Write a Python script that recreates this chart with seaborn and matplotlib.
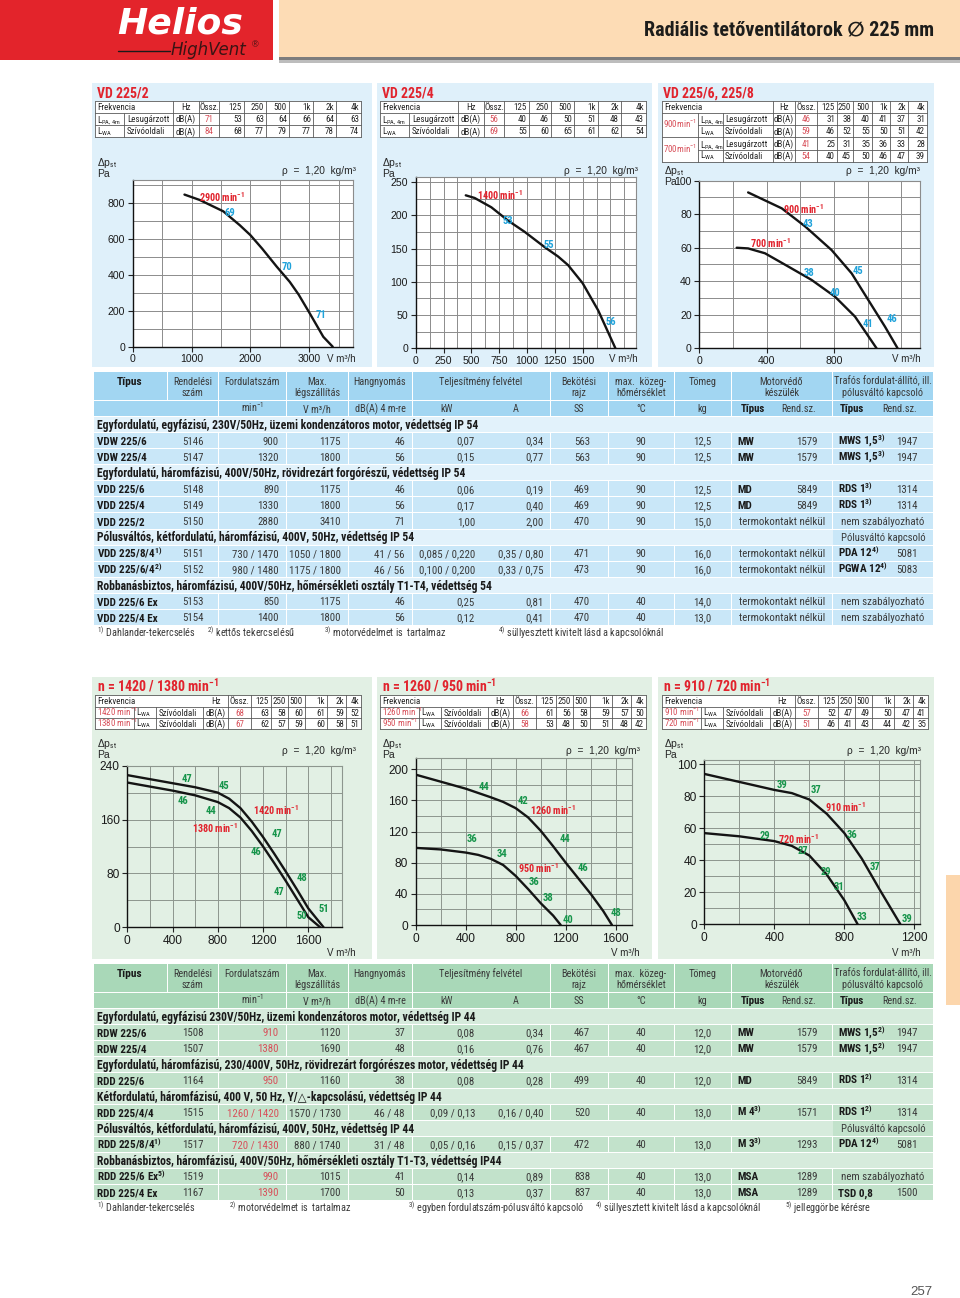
import matplotlib
matplotlib.use("Agg")
import matplotlib.pyplot as plt
import seaborn as sns
import numpy as np
import pandas as pd
from matplotlib import font_manager
from matplotlib.patches import Rectangle
from matplotlib.lines import Line2D

# ------------------------------------------------------------------ data
PAGE_TITLE = "Radiális tetőventilátorok ∅ 225 mm"
PAGE_NO = "257"
FREQS = ["125", "250", "500", "1k", "2k", "4k"]

# VD 225/2
VD2_TITLE = "VD 225/2"
VD2_TOTALS = ["71", "84"]
VD2_LPA = ["53", "63", "64", "66", "64", "63"]
VD2_LWA = ["68", "77", "79", "77", "78", "74"]
VD2_V = [880, 1140, 1540, 1820, 2000, 2200, 2450, 2670, 2820, 3010, 3240, 3400]
VD2_P = [845, 815, 752, 675, 620, 545, 444, 360, 290, 185, 55, 0]
VD2_LABELS = [("2900 min$^{\\mathbf{-1}}$", 1130, 832, "rpm"), ("69", 1652, 741, "db"),
              ("70", 2615, 444, "db"), ("71", 3209, 176, "db")]

# VD 225/4
VD4_TITLE = "VD 225/4"
VD4_TOTALS = ["56", "69"]
VD4_LPA = ["40", "46", "50", "51", "48", "43"]
VD4_LWA = ["55", "60", "65", "61", "62", "54"]
VD4_V = [450, 530, 680, 830, 980, 1160, 1280, 1370, 1500, 1640, 1795]
VD4_P = [230, 226, 212, 192, 175, 152, 138, 125, 98, 57, 0]
VD4_LABELS = [("1400 min$^{\\mathbf{-1}}$", 548, 231, "rpm"), ("53", 832, 192, "db"),
              ("55", 1198, 156, "db"), ("56", 1754, 40, "db")]

# VD 225/6, 225/8
VD68_TITLE = "VD 225/6, 225/8"
VD68_RPM = ["900min$^{-1}$", "700min$^{-1}$"]
VD68_TOTALS = ["46", "59", "41", "54"]
VD68_ROWS = [["31", "38", "40", "41", "37", "31"], ["46", "52", "55", "50", "51", "42"],
             ["25", "31", "35", "36", "33", "28"], ["40", "45", "50", "46", "47", "39"]]
VD6_V = [290, 490, 630, 786, 905, 1004, 1103, 1178]
VD6_P = [93, 83.5, 72.6, 58.6, 44.7, 28.8, 12.9, 0]
VD8_V = [222, 290, 390, 530, 667, 806, 925, 1053]
VD8_P = [60, 59.6, 56.7, 48.7, 40.8, 30.8, 18.9, 0]
VD68_LABELS = [("900 min$^{\\mathbf{-1}}$", 499, 83, "rpm"), ("43", 643, 74, "db"),
               ("700 min$^{\\mathbf{-1}}$", 301, 63, "rpm"), ("38", 651, 45, "db"),
               ("45", 944, 46, "db"), ("40", 806, 33, "db"), ("41", 1004, 14.5, "db"),
               ("46", 1143, 17.5, "db")]

# n = 1420 / 1380
N1_TITLE = "n = 1420 / 1380 min$^{\\mathbf{-1}}$"
N1_RPM = ["1420 min$^{-1}$", "1380 min$^{-1}$"]
N1_TOTALS = ["68", "67"]
N1_ROWS = [["63", "58", "60", "61", "59", "52"], ["62", "57", "59", "60", "58", "51"]]
N1A_V = [0, 200, 400, 600, 800, 900, 1000, 1100, 1200, 1300, 1400, 1500, 1600, 1735]
N1A_P = [226, 220, 214, 208, 200, 191, 177, 157, 134, 109, 83, 56, 28, 0]
N1B_V = [0, 200, 400, 600, 800, 900, 1000, 1100, 1200, 1300, 1400, 1500, 1600, 1705]
N1B_P = [215, 209, 203, 196, 186, 177, 163, 143, 120, 95, 69, 42, 15, 0]
N1_LABELS = [("47", 531, 220, "db"), ("45", 855, 210, "db"), ("46", 490, 187, "db"),
             ("44", 740, 172, "db"), ("1420 min$^{\\mathbf{-1}}$", 1115, 174, "rpm"),
             ("1380 min$^{\\mathbf{-1}}$", 570, 147, "rpm"), ("47", 1320, 139, "db"),
             ("46", 1135, 112, "db"), ("48", 1545, 73, "db"), ("47", 1342, 53, "db"),
             ("51", 1735, 27, "db"), ("50", 1543, 17, "db")]

# n = 1260 / 950
N2_TITLE = "n = 1260 / 950 min$^{\\mathbf{-1}}$"
N2_RPM = ["1260 min$^{-1}$", "950 min$^{-1}$"]
N2_TOTALS = ["66", "58"]
N2_ROWS = [["61", "56", "58", "59", "57", "50"], ["53", "48", "50", "51", "48", "42"]]
N2A_V = [0, 200, 400, 600, 700, 800, 900, 1000, 1100, 1200, 1300, 1400, 1500, 1570]
N2A_P = [193, 184, 175, 164, 158, 150, 138, 121, 101, 80, 60, 40, 18, 0]
N2B_V = [0, 200, 400, 500, 600, 700, 800, 900, 1000, 1100, 1160]
N2B_P = [99, 97, 93, 90, 85, 77, 63, 46, 28, 12, 0]
N2_LABELS = [("44", 547, 177, "db"), ("42", 861, 159, "db"),
             ("1260 min$^{\\mathbf{-1}}$", 915, 147, "rpm"), ("36", 450, 110, "db"),
             ("44", 1195, 110, "db"), ("34", 690, 91, "db"),
             ("950 min$^{\\mathbf{-1}}$", 820, 73, "rpm"), ("46", 1341, 73, "db"),
             ("36", 947, 55, "db"), ("38", 1061, 35, "db"), ("40", 1221, 7, "db"),
             ("48", 1603, 16, "db")]

# n = 910 / 720
N3_TITLE = "n = 910 / 720 min$^{\\mathbf{-1}}$"
N3_RPM = ["910 min$^{-1}$", "720 min$^{-1}$"]
N3_TOTALS = ["57", "51"]
N3_ROWS = [["52", "47", "49", "50", "47", "41"], ["46", "41", "43", "44", "42", "35"]]
N3A_V = [0, 200, 400, 500, 600, 700, 800, 900, 1000, 1120]
N3A_P = [94, 89, 84, 82, 78, 69, 57, 41, 22, 0]
N3B_V = [0, 200, 400, 500, 600, 700, 800, 876]
N3B_P = [57, 55, 52, 49, 43, 31, 15, 0]
N3_LABELS = [("39", 446, 87, "db"), ("37", 636, 84, "db"),
             ("910 min$^{\\mathbf{-1}}$", 690, 73, "rpm"), ("36", 842, 56, "db"),
             ("29", 347, 55, "db"), ("720 min$^{\\mathbf{-1}}$", 423, 53, "rpm"),
             ("27", 566, 46, "db"), ("37", 975, 36, "db"), ("29", 695, 32.5, "db"),
             ("31", 770, 23.5, "db"), ("33", 899, 4.4, "db"), ("39", 1156, 3.3, "db")]

# main tables
HEADERS = [("Típus", ""), ("Rendelési", "szám"), ("Fordulatszám", ""), ("Max.", "légszállítás"),
           ("Hangnyomás", ""), ("Teljesítmény felvétel", ""), ("Bekötési", "rajz"),
           ("max.  közeg-", "hőmérséklet"), ("Tömeg", ""), ("Motorvédő", "készülék"),
           ("Trafós fordulat-állító, ill.", "pólusváltó kapcsoló")]
UNITS = ["min$^{-1}$", "V m³/h", "dB(A) 4 m-re", "kW", "A", "SS", "°C", "kg"]

TOP_ROWS = [
    ["S", "Egyfordulatú, egyfázisú, 230V/50Hz, üzemi kondenzátoros motor, védettség IP 54", ""],
    ["D", "VDW 225/6", "5146", "900", "1175", "46", "0,07", "0,34", "563", "90", "12,5", "MW", "1579", "MWS 1,5$^{3)}$", "1947"],
    ["D", "VDW 225/4", "5147", "1320", "1800", "56", "0,15", "0,77", "563", "90", "12,5", "MW", "1579", "MWS 1,5$^{3)}$", "1947"],
    ["S", "Egyfordulatú, háromfázisú, 400V/50Hz, rövidrezárt forgórészű, védettség IP 54", ""],
    ["D", "VDD 225/6", "5148", "890", "1175", "46", "0,06", "0,19", "469", "90", "12,5", "MD", "5849", "RDS 1$^{3)}$", "1314"],
    ["D", "VDD 225/4", "5149", "1330", "1800", "56", "0,17", "0,40", "469", "90", "12,5", "MD", "5849", "RDS 1$^{3)}$", "1314"],
    ["D", "VDD 225/2", "5150", "2880", "3410", "71", "1,00", "2,00", "470", "90", "15,0", "termokontakt nélkül", "", "nem szabályozható", ""],
    ["S", "Pólusváltós, kétfordulatú, háromfázisú, 400V, 50Hz, védettség IP 54", "Pólusváltó kapcsoló"],
    ["D", "VDD 225/8/4$^{1)}$", "5151", "730 / 1470", "1050 / 1800", "41 / 56", "0,085 / 0,220", "0,35 / 0,80", "471", "90", "16,0", "termokontakt nélkül", "", "PDA 12$^{4)}$", "5081"],
    ["D", "VDD 225/6/4$^{2)}$", "5152", "980 / 1480", "1175 / 1800", "46 / 56", "0,100 / 0,200", "0,33 / 0,75", "473", "90", "16,0", "termokontakt nélkül", "", "PGWA 12$^{4)}$", "5083"],
    ["S", "Robbanásbiztos, háromfázisú, 400V/50Hz, hőmérsékleti osztály T1-T4, védettség 54", ""],
    ["D", "VDD 225/6 Ex", "5153", "850", "1175", "46", "0,25", "0,81", "470", "40", "14,0", "termokontakt nélkül", "", "nem szabályozható", ""],
    ["D", "VDD 225/4 Ex", "5154", "1400", "1800", "56", "0,12", "0,41", "470", "40", "13,0", "termokontakt nélkül", "", "nem szabályozható", ""],
]
TOP_NOTES = [("$^{1)}$ Dahlander-tekercselés", 97), ("$^{2)}$ kettős tekercselésű", 207),
             ("$^{3)}$ motorvédelmet is  tartalmaz", 324), ("$^{4)}$ süllyesztett kivitelt lásd a kapcsolóknál", 498)]

BOT_ROWS = [
    ["S", "Egyfordulatú, egyfázisú 230V/50Hz, üzemi kondenzátoros motor, védettség IP 44", ""],
    ["D", "RDW 225/6", "1508", "910", "1120", "37", "0,08", "0,34", "467", "40", "12,0", "MW", "1579", "MWS 1,5$^{2)}$", "1947"],
    ["D", "RDW 225/4", "1507", "1380", "1690", "48", "0,16", "0,76", "467", "40", "12,0", "MW", "1579", "MWS 1,5$^{2)}$", "1947"],
    ["S", "Egyfordulatú, háromfázisú, 230/400V, 50Hz, rövidrezárt forgórészes motor, védettség IP 44", ""],
    ["D", "RDD 225/6", "1164", "950", "1160", "38", "0,08", "0,28", "499", "40", "12,0", "MD", "5849", "RDS 1$^{2)}$", "1314"],
    ["S", "Kétfordulatú, háromfázisú, 400 V, 50 Hz, Y/△-kapcsolású, védettség IP 44", ""],
    ["D", "RDD 225/4/4", "1515", "1260 / 1420", "1570 / 1730", "46 / 48", "0,09 / 0,13", "0,16 / 0,40", "520", "40", "13,0", "M 4$^{3)}$", "1571", "RDS 1$^{2)}$", "1314"],
    ["S", "Pólusváltós, kétfordulatú, háromfázisú, 400V, 50Hz, védettség IP 44", "Pólusváltó kapcsoló"],
    ["D", "RDD 225/8/4$^{1)}$", "1517", "720 / 1430", "880 / 1740", "31 / 48", "0,05 / 0,16", "0,15 / 0,37", "472", "40", "13,0", "M 3$^{3)}$", "1293", "PDA 12$^{4)}$", "5081"],
    ["S", "Robbanásbiztos, háromfázisú, 400V/50Hz, hőmérsékleti osztály T1-T3, védettség IP44", ""],
    ["D", "RDD 225/6 Ex$^{5)}$", "1519", "990", "1015", "41", "0,14", "0,89", "838", "40", "13,0", "MSA", "1289", "nem szabályozható", ""],
    ["D", "RDD 225/4 Ex", "1167", "1390", "1700", "50", "0,13", "0,37", "837", "40", "13,0", "MSA", "1289", "TSD 0,8", "1500"],
]
BOT_NOTES = [("$^{1)}$ Dahlander-tekercselés", 97), ("$^{2)}$ motorvédelmet is  tartalmaz", 229),
             ("$^{3)}$ egyben fordulatszám-pólusváltó kapcsoló", 408),
             ("$^{4)}$ süllyesztett kivitelt lásd a kapcsolóknál", 595), ("$^{5)}$ jelleggörbe kérésre", 785)]

# ------------------------------------------------------------------ style / fonts
sns.set_theme(style="white")
names = {f.name for f in font_manager.fontManager.ttflist}
NARROW = next((n for n in ["Liberation Sans Narrow", "Roboto Condensed", "Arial Narrow"] if n in names), None)
SANS = "Liberation Sans" if "Liberation Sans" in names else "DejaVu Sans"
NS = 1.0
if NARROW is None:
    NARROW = SANS
    NS = 0.84
plt.rcParams["font.family"] = [NARROW, "DejaVu Sans"]
plt.rcParams["mathtext.fontset"] = "custom"
plt.rcParams["mathtext.rm"] = NARROW
plt.rcParams["mathtext.it"] = NARROW + ":italic"
plt.rcParams["mathtext.bf"] = NARROW + ":bold"
plt.rcParams["mathtext.default"] = "regular"

INK = "#262626"
RED = "#e1232d"
PINK = "#d8505a"
CYAN = "#1fa2da"
GREEN = "#16944a"

W, H = 960, 1298
fig = plt.figure(figsize=(W / 100, H / 100), dpi=100)


def R(x0, y0, x1, y1, fc, z=1):
    fig.add_artist(Rectangle((x0 / W, 1 - y1 / H), (x1 - x0) / W, (y1 - y0) / H,
                             transform=fig.transFigure, facecolor=fc, edgecolor="none",
                             linewidth=0, zorder=z))


def L(x0, y0, x1, y1, c="#5a5a5a", lw=0.6, z=3):
    fig.add_artist(Line2D([x0 / W, x1 / W], [1 - y0 / H, 1 - y1 / H], transform=fig.transFigure,
                          color=c, linewidth=lw, zorder=z))


def TX(x, yc, s, size=7.8, ha="left", color=INK, weight="normal", fam=None, style="normal", z=4):
    fam = fam or NARROW
    sz = size * (NS if fam == NARROW else 1.0)
    fig.text(x / W, 1 - (yc + 0.5 * sz) / H, s, fontsize=sz, ha=ha, va="baseline", color=color,
             fontweight=weight, family=[fam, "DejaVu Sans"], fontstyle=style, zorder=z)


# ------------------------------------------------------------------ page header
R(0, 0, 273, 60, "#e3242b")
R(279, 0, 960, 57, "#fddcb5")
R(279, 57, 960, 60, "#7d7d7d")
R(279, 60, 960, 62.5, "#bdbdbd")
TX(117, 20.5, "Helios", size=26, color="white", weight="bold", style="italic", fam="DejaVu Sans")
TX(171, 48.8, "HighVent", size=12, color="#3a1414", style="italic", fam="DejaVu Sans")
TX(252, 44, "®", size=6.5, color="#3a1414", fam=SANS)
L(118, 51, 170, 51, c="#1a1a1a", lw=1.0)
TX(934, 28, PAGE_TITLE, size=14.5, ha="right", weight="bold", color="#1d1d1b")

# ------------------------------------------------------------------ panels
TOP_BG, BOT_BG = "#dff0fa", "#e2f0e4"
PX = [(92, 372), (377, 652), (658, 934)]
for (a, b) in PX:
    R(a, 83, b, 367, TOP_BG, z=0.5)
    R(a, 677, b, 959, BOT_BG, z=0.5)


def small_table_top(ox, lpa_lab, totals, r1, r2):
    xs = [ox + d for d in (0, 29, 78, 104, 124, 149, 171, 194, 218, 241, 266)]
    ys = [100.7, 112.9, 125.1, 137.3]
    R(xs[0], ys[0], xs[-1], ys[-1], "white", z=2)
    for y in ys:
        L(xs[0], y, xs[-1], y)
    for i, x in enumerate(xs):
        L(x, ys[1] if i == 1 else ys[0], x, ys[3])
    fs = 6.5
    yc = [(ys[i] + ys[i + 1]) / 2 for i in range(3)]
    TX(xs[0] + 2, yc[0], "Frekvencia", fs)
    TX((xs[2] + xs[3]) / 2, yc[0], "Hz", fs, "center")
    TX((xs[3] + xs[4]) / 2, yc[0], "Össz.", fs, "center")
    for k, f in enumerate(FREQS):
        TX(xs[5 + k] - 2, yc[0], f, fs, "right")
    for r, (lab, name, tot, vals) in enumerate([(lpa_lab, "Lesugárzott", totals[0], r1),
                                                 ("L$_{\\mathrm{WA}}$", "Szívóoldali", totals[1], r2)]):
        y = yc[r + 1]
        TX(xs[0] + 2, y, lab, fs)
        TX(xs[1] + 3, y, name, fs)
        TX((xs[2] + xs[3]) / 2, y, "dB(A)", fs, "center")
        TX((xs[3] + xs[4]) / 2, y, tot, fs, "center", color=PINK)
        for k, v in enumerate(vals):
            TX(xs[5 + k] - 2, y, v, fs, "right")


def small_table_68():
    xs = [662, 698, 723, 773, 795, 817, 837, 853, 872, 890, 908, 927]
    ys = [100.7, 112.9, 125.1, 137.3, 149.5, 161.7]
    R(xs[0], ys[0], xs[-1], ys[-1], "white", z=2)
    for i, y in enumerate(ys):
        L(xs[1] if i in (2, 4) else xs[0], y, xs[-1], y)
    for i, x in enumerate(xs):
        L(x, ys[1] if i in (1, 2) else ys[0], x, ys[5])
    fs = 6.5
    yc = [(ys[i] + ys[i + 1]) / 2 for i in range(5)]
    TX(xs[0] + 2, yc[0], "Frekvencia", fs)
    TX((xs[3] + xs[4]) / 2, yc[0], "Hz", fs, "center")
    TX((xs[4] + xs[5]) / 2, yc[0], "Össz.", fs, "center")
    for k, f in enumerate(FREQS):
        TX(xs[6 + k] - 2, yc[0], f, fs, "right")
    for g in range(2):
        TX((xs[0] + xs[1]) / 2, ys[1 + 2 * g + 1], VD68_RPM[g], fs, "center", color=PINK)
        for j, (lab, name) in enumerate([("L$_{\\mathrm{PA,\\,4m}}$", "Lesugárzott"),
                                         ("L$_{\\mathrm{WA}}$", "Szívóoldali")]):
            r = 2 * g + j
            y = yc[r + 1]
            TX(xs[1] + 2, y, lab, fs)
            TX(xs[2] + 2, y, name, fs)
            TX((xs[3] + xs[4]) / 2, y, "dB(A)", fs, "center")
            TX((xs[4] + xs[5]) / 2, y, VD68_TOTALS[r], fs, "center", color=PINK)
            for k, v in enumerate(VD68_ROWS[r]):
                TX(xs[6 + k] - 2, y, v, fs, "right")


def small_table_bot(ox, rpms, totals, rows):
    xs = [ox + d for d in (0, 39, 61, 108, 133, 156, 176, 193, 210, 232, 251, 266)]
    ys = [695.5, 706.8, 718.1, 729.4]
    R(xs[0], ys[0], xs[-1], ys[-1], "white", z=2)
    for y in ys:
        L(xs[0], y, xs[-1], y)
    for i, x in enumerate(xs):
        L(x, ys[1] if i in (1, 2, 3) else ys[0], x, ys[3])
    fs = 6.5
    yc = [(ys[i] + ys[i + 1]) / 2 for i in range(3)]
    TX(xs[0] + 2, yc[0], "Frekvencia", fs)
    TX((xs[3] + xs[4]) / 2, yc[0], "Hz", fs, "center")
    TX((xs[4] + xs[5]) / 2, yc[0], "Össz.", fs, "center")
    for k, f in enumerate(FREQS):
        TX(xs[6 + k] - 2, yc[0], f, fs, "right")
    for r in range(2):
        y = yc[r + 1]
        TX(xs[0] + 2, y, rpms[r], fs, color=PINK)
        TX(xs[1] + 2, y, "L$_{\\mathrm{WA}}$", fs)
        TX(xs[2] + 3, y, "Szívóoldali", fs)
        TX((xs[3] + xs[4]) / 2, y, "dB(A)", fs, "center")
        TX((xs[4] + xs[5]) / 2, y, totals[r], fs, "center", color=PINK)
        for k, v in enumerate(rows[r]):
            TX(xs[6 + k] - 2, y, v, fs, "right")


def chart(frame, xlim, ylim, xmaj, ymaj, xgrid, ygrid, curves, labels, face, gc, tsize, lab_color):
    xl, yt, xr, yb = frame
    ax = fig.add_axes([xl / W, 1 - yb / H, (xr - xl) / W, (yb - yt) / H], zorder=5)
    ax.set_facecolor(face)
    for cx, cy in curves:
        df = pd.DataFrame({"V": cx, "p": cy})
        sns.lineplot(data=df, x="V", y="p", ax=ax, color="#141414", linewidth=1.7,
                     sort=False, estimator=None, legend=False)
    ax.set_xlim(*xlim)
    ax.set_ylim(*ylim)
    ax.set_xticks(xmaj, labels=[str(v) for v in xmaj])
    ax.set_yticks(ymaj, labels=[str(v) for v in ymaj])
    ax.set_xticks(xgrid, minor=True)
    ax.set_yticks(ygrid, minor=True)
    ax.grid(True, which="both", color=gc, linewidth=0.7)
    ax.set_axisbelow(True)
    ax.tick_params(which="minor", length=0)
    ax.tick_params(which="major", length=3.5, width=0.8, color="#222222", labelsize=tsize, pad=2,
                   direction="out", bottom=True, left=True, labelcolor="#1a1a1a")
    for lab in ax.get_xticklabels() + ax.get_yticklabels():
        lab.set_fontfamily(SANS)
    ax.set_xlabel("")
    ax.set_ylabel("")
    for s in ("left", "bottom"):
        ax.spines[s].set_color("#111111")
        ax.spines[s].set_linewidth(1.0)
    for s in ("top", "right"):
        ax.spines[s].set_color(gc)
        ax.spines[s].set_linewidth(0.8)
    for txt, x, y, kind in labels:
        if kind == "rpm":
            ax.text(x, y, txt, color=RED, fontsize=7.3 * NS, fontweight="bold", ha="left",
                    va="center", family=[NARROW], clip_on=False)
        else:
            ax.text(x, y, txt, color=lab_color, fontsize=7.6 * NS, fontweight="bold", ha="center",
                    va="center", family=[NARROW], clip_on=False)
    return ax


def chart_texts(ox, y_dp, y_rho, y_v, right):
    TX(ox, y_dp, "Δp$_{\\mathrm{st}}$", 7.5, fam=SANS)
    TX(ox, y_dp + 11, "Pa", 7.5, fam=SANS)
    TX(right, y_rho, "ρ  =  1,20  kg/m³", 7.3, "right", fam=SANS)
    TX(right, y_v, "V m³/h", 7.0, "right", fam=SANS)


# ---- top panels
TX(97, 93, VD2_TITLE, 10, weight="bold", color=RED)
TX(382, 93, VD4_TITLE, 10, weight="bold", color=RED)
TX(663, 93, VD68_TITLE, 10, weight="bold", color=RED)
small_table_top(95, "L$_{\\mathrm{PA,\\,4m}}$", VD2_TOTALS, VD2_LPA, VD2_LWA)
small_table_top(380, "L$_{\\mathrm{PA,\\,4m}}$", VD4_TOTALS, VD4_LPA, VD4_LWA)
small_table_68()

chart((132.7, 180, 353.3, 346.7), (0, 3750), (0, 926), [0, 1000, 2000, 3000], [0, 200, 400, 600, 800],
      list(range(0, 3751, 500)), list(range(0, 926, 100)), [(VD2_V, VD2_P)], VD2_LABELS,
      "white", "#8c8c8c", 7.6, CYAN)
chart((415.7, 176.7, 636, 348.3), (0, 1980), (0, 258), [0, 250, 500, 750, 1000, 1250, 1500],
      [0, 50, 100, 150, 200, 250], list(range(0, 1980, 125)), list(range(0, 258, 25)),
      [(VD4_V, VD4_P)], VD4_LABELS, "white", "#8c8c8c", 7.6, CYAN)
chart((699.3, 180.7, 920, 348.3), (0, 1311), (0, 100), [0, 400, 800], [0, 20, 40, 60, 80, 100],
      list(range(0, 1311, 200)), list(range(0, 101, 10)), [(VD6_V, VD6_P), (VD8_V, VD8_P)],
      VD68_LABELS, "white", "#8c8c8c", 7.6, CYAN)
chart_texts(97, 162, 170, 359, 356)
chart_texts(382, 162, 170, 359, 638)
TX(664, 170, "Δp$_{\\mathrm{st}}$", 7.5, fam=SANS)
TX(664, 181, "Pa", 7.5, fam=SANS)
TX(920, 170, "ρ  =  1,20  kg/m³", 7.3, "right", fam=SANS)
TX(921, 359, "V m³/h", 7.0, "right", fam=SANS)

# ---- bottom panels
TX(97, 686, N1_TITLE, 10, weight="bold", color=RED)
TX(382, 686, N2_TITLE, 10, weight="bold", color=RED)
TX(663, 686, N3_TITLE, 10, weight="bold", color=RED)
small_table_bot(95, N1_RPM, N1_TOTALS, N1_ROWS)
small_table_bot(380, N2_RPM, N2_TOTALS, N2_ROWS)
small_table_bot(662, N3_RPM, N3_TOTALS, N3_ROWS)
chart((127.3, 765.7, 341.7, 927.3), (0, 1895), (0, 240), [0, 400, 800, 1200, 1600], [0, 80, 160, 240],
      list(range(0, 1895, 200)), list(range(0, 241, 40)), [(N1A_V, N1A_P), (N1B_V, N1B_P)],
      N1_LABELS, BOT_BG, "#8d968e", 8.6, GREEN)
chart((415.7, 758.3, 631.7, 925), (0, 1728), (0, 214), [0, 400, 800, 1200, 1600],
      [0, 40, 80, 120, 160, 200], list(range(0, 1728, 200)), list(range(0, 214, 20)),
      [(N2A_V, N2A_P), (N2B_V, N2B_P)], N2_LABELS, BOT_BG, "#8d968e", 8.6, GREEN)
chart((704.3, 760, 920, 924.3), (0, 1232), (0, 102.7), [0, 400, 800, 1200], [0, 20, 40, 60, 80, 100],
      list(range(0, 1232, 200)), list(range(0, 103, 10)), [(N3A_V, N3A_P), (N3B_V, N3B_P)],
      N3_LABELS, BOT_BG, "#8d968e", 8.6, GREEN)
for ox, right in [(97, 356), (382, 640), (664, 921)]:
    chart_texts(ox, 743, 750, 952, right)

# ------------------------------------------------------------------ main tables
COLS = [(93, 218), (218, 286), (286, 348), (348, 412), (412, 482), (482, 550), (550, 608),
        (608, 674), (674, 731), (731, 832), (832, 933)]
HEAD_CELLS = [(93, 167), (167, 218), (218, 286), (286, 348), (348, 412), (412, 550), (550, 608),
              (608, 674), (674, 731), (731, 832), (832, 933)]


def main_table(y0, pitch, head_c, data_c, sec_c, rows, red_rpm, notes):
    hy0, hy1 = y0, y0 + 27.5
    for (a, b), (l1, l2) in zip(HEAD_CELLS, HEADERS):
        R(a + 0.5, hy0, b - 0.5, hy1, head_c)
        cx = (a + b) / 2
        if l1 == "Típus":
            TX(cx, hy0 + 9, l1, 8.2, "center", weight="bold", color="#1a1a1a")
        else:
            TX(cx, hy0 + 9, l1, 7.4, "center", color="#3a3a3a")
            if l2:
                TX(cx, hy0 + 20, l2, 7.4, "center", color="#3a3a3a")
    uy0, uy1 = hy1 + 1.5, hy1 + 16.5
    uc = (uy0 + uy1) / 2
    for i, (a, b) in enumerate(COLS):
        R(a + 0.5, uy0, b - 0.5, uy1, head_c)
        if 1 <= i <= 8:
            TX((a + b) / 2, uc, UNITS[i - 1], 7.4, "center", color="#3a3a3a")
    for xa, xb in [(741, 781), (840, 882)]:
        TX(xa, uc, "Típus", 7.8, weight="bold", color="#1a1a1a")
        TX(xb, uc, "Rend.sz.", 7.4, color="#3a3a3a")
    y = uy1 + 1.0
    for row in rows:
        ya, yb = y, y + pitch - 1.0
        yc = (ya + yb) / 2
        if row[0] == "S":
            R(93.5, ya, 932.5, yb, sec_c)
            TX(97, yc, row[1], 8.4, weight="bold", color="#1a1a1a")
            if row[2]:
                R(832.5, ya, 932.5, yb, data_c)
                TX(883, yc, row[2], 7.7, "center", color="#3a3a3a")
        else:
            for a, b in COLS:
                R(a + 0.5, ya, b - 0.5, yb, data_c)
            f = row[1:]
            TX(97, yc, f[0], 8.0, weight="bold", color="#1a1a1a")
            TX(193, yc, f[1], 7.8, "center", color="#3a3a3a")
            TX(279, yc, f[2], 7.8, "right", color=PINK if red_rpm else "#3a3a3a")
            TX(341, yc, f[3], 7.8, "right", color="#3a3a3a")
            TX(405, yc, f[4], 7.8, "right", color="#3a3a3a")
            TX(475, yc, f[5], 7.8, "right", color="#3a3a3a")
            TX(544, yc, f[6], 7.8, "right", color="#3a3a3a")
            TX(582, yc, f[7], 7.8, "center", color="#3a3a3a")
            TX(641, yc, f[8], 7.8, "center", color="#3a3a3a")
            TX(702, yc, f[9], 7.8, "center", color="#3a3a3a")
            if f[11]:
                TX(737, yc, f[10], 8.0, weight="bold", color="#1a1a1a")
                TX(818, yc, f[11], 7.8, "right", color="#3a3a3a")
            else:
                TX(782, yc, f[10], 7.8, "center", color="#3a3a3a")
            if f[13]:
                TX(838, yc, f[12], 8.0, weight="bold", color="#1a1a1a")
                TX(918, yc, f[13], 7.8, "right", color="#3a3a3a")
            else:
                TX(883, yc, f[12], 7.8, "center", color="#3a3a3a")
        y += pitch
    ny = y + 7.0
    for txt, x in notes:
        TX(x, ny, txt, 7.3, color="#3a3a3a")


main_table(372, 16.08, "#a2d6f2", "#c9e7f8", "#e2f2fb", TOP_ROWS, False, TOP_NOTES)
main_table(964, 16.0, "#a9d8b8", "#c2e2cb", "#d6ebdc", BOT_ROWS, True, BOT_NOTES)

# ------------------------------------------------------------------ side tab and page number
R(946, 875, 960, 1005, "#fcd6ac")
TX(921, 1290, PAGE_NO, 9.5, "center", color="#555555", fam=SANS)

fig.savefig("out.png", dpi=100, facecolor="white")
